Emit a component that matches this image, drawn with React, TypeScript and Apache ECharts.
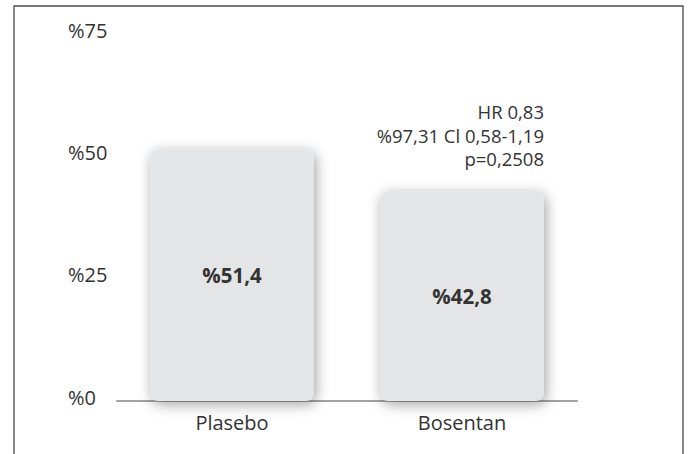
import React, { useEffect, useRef } from "react";
import * as echarts from "echarts";

const categories = ["Plasebo", "Bosentan"];
const values = [51.4, 42.8];
const valueLabels = ["%51,4", "%42,8"];
const annotationLines = ["HR 0,83", "%97,31 Cl 0,58-1,19", "p=0,2508"];

const FONT = "'Open Sans', 'Noto Sans', sans-serif";
const TEXT = "#333333";

export default function App() {
  const ref = useRef<HTMLDivElement>(null);
  useEffect(() => {
    if (!ref.current) return;
    const chart = echarts.init(ref.current, undefined, { renderer: "svg" });
    chart.setOption({
      animation: false,
      backgroundColor: "#ffffff",
      grid: { left: 117, right: 115, top: 34, bottom: 53 },
      xAxis: {
        type: "category",
        data: categories,
        axisLine: { show: true, lineStyle: { color: "#a3a3a3", width: 2 } },
        axisTick: { show: false },
        axisLabel: {
          color: TEXT,
          fontFamily: FONT,
          fontSize: 20,
          margin: 11,
        },
      },
      yAxis: {
        type: "value",
        min: 0,
        max: 75,
        interval: 25,
        splitLine: { show: false },
        axisLine: { show: false },
        axisTick: { show: false },
        axisLabel: {
          color: TEXT,
          fontFamily: FONT,
          fontSize: 20,
          align: "left",
          margin: 49,
          formatter: (v: number) => "{v|%" + v + "}",
          rich: {
            v: {
              color: TEXT,
              fontFamily: FONT,
              fontSize: 20,
              padding: [0, 0, 8, 0],
            },
          },
        },
      },
      series: [
        {
          type: "bar",
          data: values,
          barWidth: "71%",
          itemStyle: {
            color: "#e4e5e7",
            borderRadius: 8,
            shadowBlur: 14,
            shadowColor: "rgba(0,0,0,0.38)",
            shadowOffsetX: 2,
            shadowOffsetY: 3,
          },
          label: {
            show: true,
            position: "inside",
            color: TEXT,
            fontFamily: FONT,
            fontWeight: "bold",
            fontSize: 20.5,
            formatter: (p: any) => valueLabels[p.dataIndex],
          },
        },
      ],
      graphic: [
        {
          type: "rect",
          silent: true,
          shape: { x: 14, y: 6, width: 669, height: 470 },
          style: { fill: "none", stroke: "#4a4a4a", lineWidth: 1.3 },
          z: 100,
        },
        {
          type: "text",
          x: 544,
          y: 100,
          style: {
            text: annotationLines.join("\n"),
            align: "right",
            verticalAlign: "top",
            fill: TEXT,
            font: `18.5px ${FONT}`,
            lineHeight: 23.5,
          },
        },
      ],
    });
    return () => chart.dispose();
  }, []);
  return (
    <div
      ref={ref}
      style={{ position: "absolute", left: 0, top: 0, width: 692, height: 454 }}
    />
  );
}
